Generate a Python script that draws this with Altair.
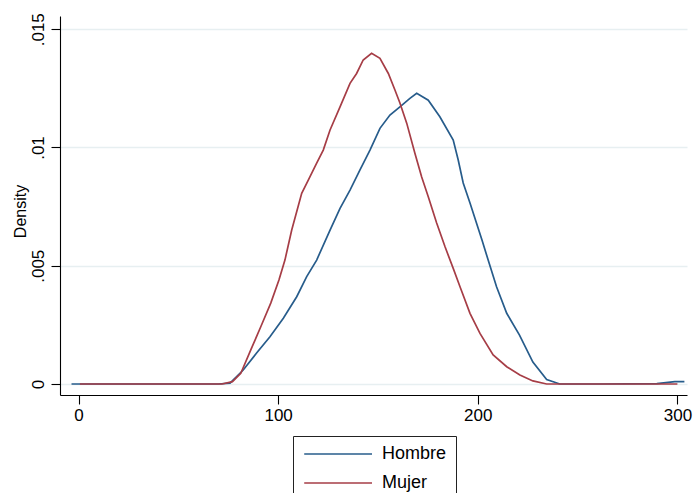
import altair as alt
import pandas as pd

# Kernel density estimates by sex (evaluation points and densities)
hombre_x = [-3.5, 20, 45, 70, 75.9, 82.5, 89.2, 95.9, 102.6, 109.3, 114.3, 119.3,
            126.0, 131.0, 136.0, 141.0, 146.0, 151.0, 156.0, 161.0, 166.0, 169.4,
            175.2, 181.0, 187.7, 190.2, 192.7, 196.1, 202.1, 205.2, 209.4, 214.5,
            220.9, 227.6, 234.5, 241.1, 260, 289.7, 298.7, 303.5]
hombre_y = [0, 0, 0, 0, 0.00004, 0.00059, 0.00131, 0.0020, 0.00278, 0.00369, 0.00454,
            0.00524, 0.00651, 0.00743, 0.0082, 0.00905, 0.00989, 0.01081, 0.01137,
            0.01172, 0.01208, 0.01229, 0.0120, 0.0113, 0.01031, 0.00947, 0.0085,
            0.00765, 0.00609, 0.00524, 0.00411, 0.00299, 0.00207, 0.00093, 0.00019,
            0, 0, 0.00002, 0.0001, 0.0001]

mujer_x = [0.7, 25, 50, 71.9, 77.1, 81.3, 86.3, 91.3, 96.3, 100.4, 103.4, 106.8,
           111.8, 115.1, 119.3, 122.6, 126.0, 131.0, 136.0, 139.3, 142.6, 146.8,
           151.0, 155.2, 158.5, 161.0, 164.4, 168.5, 171.9, 175.2, 179.4, 183.6,
           187.7, 191.1, 196.1, 201.1, 207.7, 214.5, 221.1, 227.6, 234.5, 260, 280, 300]
mujer_y = [0, 0, 0, 0, 0.0001, 0.00045, 0.00144, 0.00242, 0.00342, 0.0044, 0.00524,
           0.00651, 0.00806, 0.00862, 0.00934, 0.00989, 0.01074, 0.01172, 0.01271,
           0.01313, 0.0137, 0.01398, 0.01377, 0.01313, 0.01243, 0.01188, 0.01103,
           0.00976, 0.00875, 0.00792, 0.00681, 0.0058, 0.00489, 0.00411, 0.00299,
           0.00214, 0.00123, 0.00073, 0.00038, 0.00013, 0, 0, 0, 0]

groups = ["Hombre", "Mujer"]
colors = ["#275c8b", "#a63d46"]
x_ticks = [0, 100, 200, 300]
y_ticks = [0, 0.005, 0.01, 0.015]

df = pd.concat([
    pd.DataFrame({"x": hombre_x, "density": hombre_y, "grupo": groups[0], "orden": 0}),
    pd.DataFrame({"x": mujer_x, "density": mujer_y, "grupo": groups[1], "orden": 1}),
], ignore_index=True)

FONT = "Liberation Sans"

chart = alt.Chart(df).mark_line(strokeWidth=1.7, clip=True).encode(
    x=alt.X("x:Q",
            scale=alt.Scale(domain=[-9.27, 304.8], nice=False, zero=False),
            axis=alt.Axis(values=x_ticks, title=None, grid=False, labelFontSize=17,
                          labelPadding=3, labelBaseline="top", tickSize=9,
                          labelFlush=False)),
    y=alt.Y("density:Q",
            scale=alt.Scale(domain=[-0.000465, 0.01556], nice=False, zero=False),
            axis=alt.Axis(values=y_ticks, title="Density", grid=True,
                          labelExpr="datum.value == 0 ? '0' : substring(format(datum.value, '.3~f'), 1)",
                          labelAngle=270, labelAlign="center", labelBaseline="middle",
                          labelPadding=13, labelFontSize=17, tickSize=9, labelFlush=False,
                          titleAngle=270, titleX=-40, titleY=195, titleAlign="center",
                          titleBaseline="middle", titleFontSize=16, titleFontWeight="normal")),
    color=alt.Color("grupo:N",
                    scale=alt.Scale(domain=groups, range=colors),
                    legend=alt.Legend(title=None, orient="none", legendX=233, legendY=420,
                                      direction="vertical", symbolType="M -2 0 H 18",
                                      symbolSize=46, symbolStrokeWidth=1.7,
                                      labelOffset=62, labelFontSize=18, padding=9,
                                      rowPadding=11, strokeColor="#222222",
                                      fillColor="white", cornerRadius=0)),
    order=alt.Order("orden:Q"),
    detail="grupo:N",
).properties(
    width=627, height=379,
    autosize=alt.AutoSizeParams(type="none"),
    padding={"left": 60, "top": 16, "right": 6, "bottom": 98},
).configure_axis(
    domainColor="black", domainWidth=1.1, tickColor="black", tickWidth=1.1,
    labelColor="black", titleColor="black", labelFont=FONT, titleFont=FONT,
    gridColor="#e7eff1", gridWidth=1.5,
).configure_legend(
    labelFont=FONT, labelColor="black",
).configure_view(stroke=None)

chart.save("out.html", embed_options={"renderer": "svg", "actions": False})
